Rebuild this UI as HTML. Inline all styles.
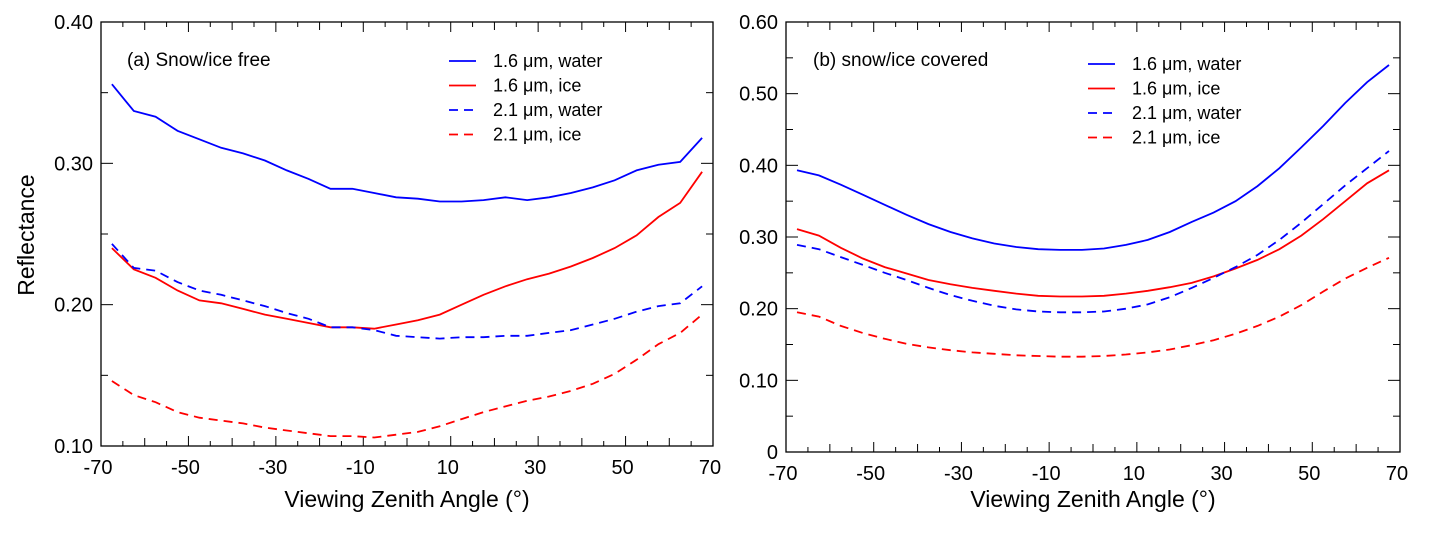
<!DOCTYPE html>
<html><head><meta charset="utf-8"><style>
body{margin:0;background:#fff;}
svg{display:block;font-family:"Liberation Sans",Arial,sans-serif;}
</style></head><body>
<svg id="c" width="1433" height="534"></svg>
<script>
const angles=[-67.5,-62.5,-57.5,-52.5,-47.5,-42.5,-37.5,-32.5,-27.5,-22.5,-17.5,-12.5,-7.5,-2.5,2.5,7.5,12.5,17.5,22.5,27.5,32.5,37.5,42.5,47.5,52.5,57.5,62.5,67.5];
const aWater16=[0.356,0.337,0.333,0.323,0.317,0.311,0.307,0.302,0.295,0.289,0.282,0.282,0.279,0.276,0.275,0.273,0.273,0.274,0.276,0.274,0.276,0.279,0.283,0.288,0.295,0.299,0.301,0.318];
const aIce16=[0.240,0.225,0.219,0.210,0.203,0.201,0.197,0.193,0.190,0.187,0.184,0.184,0.183,0.186,0.189,0.193,0.200,0.207,0.213,0.218,0.222,0.227,0.233,0.240,0.249,0.262,0.272,0.294];
const aWater21=[0.243,0.226,0.224,0.216,0.210,0.207,0.203,0.199,0.194,0.190,0.184,0.184,0.182,0.178,0.177,0.176,0.177,0.177,0.178,0.178,0.180,0.182,0.186,0.190,0.195,0.199,0.201,0.213];
const aIce21=[0.146,0.136,0.131,0.124,0.120,0.118,0.116,0.113,0.111,0.109,0.107,0.107,0.106,0.108,0.110,0.114,0.119,0.124,0.128,0.132,0.135,0.139,0.144,0.151,0.161,0.172,0.180,0.193];
const bWater16=[0.393,0.386,0.373,0.359,0.345,0.331,0.318,0.307,0.298,0.291,0.286,0.283,0.282,0.282,0.284,0.289,0.296,0.307,0.321,0.334,0.350,0.371,0.396,0.425,0.455,0.487,0.516,0.540];
const bIce16=[0.311,0.302,0.285,0.270,0.258,0.249,0.240,0.234,0.229,0.225,0.221,0.218,0.217,0.217,0.218,0.221,0.225,0.230,0.236,0.245,0.256,0.268,0.283,0.302,0.325,0.350,0.375,0.393];
const bWater21=[0.289,0.283,0.272,0.261,0.250,0.240,0.229,0.219,0.211,0.204,0.199,0.196,0.195,0.195,0.196,0.200,0.206,0.216,0.229,0.243,0.258,0.275,0.296,0.320,0.346,0.372,0.396,0.420];
const bIce21=[0.195,0.189,0.176,0.166,0.158,0.151,0.146,0.142,0.139,0.137,0.135,0.134,0.133,0.133,0.134,0.136,0.139,0.143,0.149,0.156,0.165,0.176,0.189,0.205,0.224,0.242,0.257,0.271];
const xTicks=[-70,-50,-30,-10,10,30,50,70];
const aYTicks=["0.10","0.20","0.30","0.40"];
const bYTicks=["0","0.10","0.20","0.30","0.40","0.50","0.60"];
const legendLabels=["1.6 μm, water","1.6 μm, ice","2.1 μm, water","2.1 μm, ice"];

const NS="http://www.w3.org/2000/svg";
const svg=document.getElementById('c');
function mk(t,a,p){const e=document.createElementNS(NS,t);for(const k in a)e.setAttribute(k,a[k]);(p||svg).appendChild(e);return e;}

function panel(cfg){
  const g=mk('g',{});
  
  
  const X=v=>cfg.x0+(v+70)/140*(cfg.x1-cfg.x0);
  const Y=v=>cfg.y1-(v-cfg.ymin)/(cfg.ymax-cfg.ymin)*(cfg.y1-cfg.y0);
  const fr=mk('rect',{x:cfg.x0,y:cfg.y0,width:cfg.x1-cfg.x0,height:cfg.y1-cfg.y0,fill:'none',stroke:'#000','stroke-width':1.3},g);
  
  
  for(let v=-70;v<=70;v+=5){const x=X(v),L=(v%10===0&&v%20!==0)||v===-70||v===70?10:(v%10===0?10:6);
    const len=((v+70)%20===0)?10:((v+70)%10===0?8:5);
    mk('line',{x1:x,x2:x,y1:cfg.y1,y2:cfg.y1-len,stroke:'#000'},g);
    mk('line',{x1:x,x2:x,y1:cfg.y0,y2:cfg.y0+len,stroke:'#000'},g);}
  xTicks.forEach(v=>{const t=mk('text',{x:X(v)-3,y:cfg.y1+28,'text-anchor':'middle','font-size':20},g);t.textContent=String(v).replace('-','-');
    
    });
  for(let v=cfg.ymin;v<=cfg.ymax+1e-9;v+=0.05){const y=Y(v);const maj=Math.abs(Math.round(v*10)-v*10)<1e-6;const len=maj?12:7;
    mk('line',{x1:cfg.x0,x2:cfg.x0+len,y1:y,y2:y,stroke:'#000'},g);
    mk('line',{x1:cfg.x1,x2:cfg.x1-len,y1:y,y2:y,stroke:'#000'},g);}
  cfg.yTicks.forEach(s=>{const t=mk('text',{x:cfg.x0-8,y:Y(parseFloat(s))+7,'text-anchor':'end','font-size':20},g);t.textContent=s;
    
    });
  const xt=mk('text',{x:(cfg.x0+cfg.x1)/2,y:507,'text-anchor':'middle','font-size':23},g);xt.textContent='Viewing Zenith Angle (°)';
  
  
  const tt=mk('text',{x:cfg.tx,y:66,'font-size':19},g);tt.textContent=cfg.title;
  
  
  const cols=['#0000ff','#ff0000','#0000ff','#ff0000'];
  cfg.series.forEach((s,i)=>{
    const d=s.map((v,j)=>(j?'L':'M')+X(angles[j]).toFixed(1)+','+Y(v).toFixed(1)).join(' ');
    const p=mk('path',{d:d,fill:'none',stroke:cols[i],'stroke-width':1.8,'stroke-dasharray':i>1?'9,6':'none'},g);
    
    
    const ly=cfg.ly+i*24.5;
    const ll=mk('line',{x1:cfg.lx,x2:cfg.lx+27,y1:ly,y2:ly,stroke:cols[i],'stroke-width':1.8,'stroke-dasharray':i>1?'9,6':'none'},g);
    
    
    const lt=mk('text',{x:cfg.lx+44,y:ly+6,'font-size':18},g);lt.textContent=legendLabels[i];
    
    
  });
}
panel({name:'panel-a',x0:101,x1:713,y0:22,y1:446,ymin:0.10,ymax:0.40,yTicks:aYTicks,title:'(a) Snow/ice free',tx:127,lx:449,ly:61,series:[aWater16,aIce16,aWater21,aIce21]});
panel({name:'panel-b',x0:786,x1:1400,y0:22,y1:452,ymin:0,ymax:0.60,yTicks:bYTicks,title:'(b) snow/ice covered',tx:813,lx:1088,ly:64,series:[bWater16,bIce16,bWater21,bIce21]});
const yl=mk('text',{x:0,y:0,'text-anchor':'middle','font-size':23,transform:'translate(34,235) rotate(-90)'});
yl.textContent='Reflectance';


</script>
</body></html>
